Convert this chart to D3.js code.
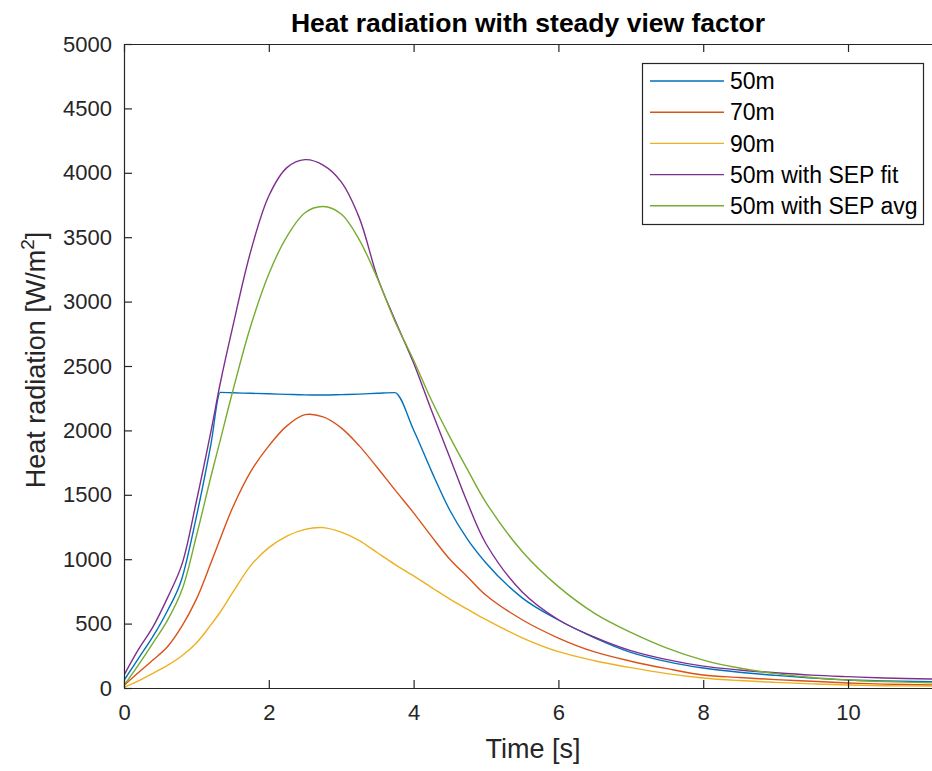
<!DOCTYPE html>
<html>
<head>
<meta charset="utf-8">
<script src="https://cdn.jsdelivr.net/npm/d3@7"></script>
<style>
  html, body { margin: 0; padding: 0; background: #fff; }
  svg { display: block; font-family: "Liberation Sans", Arial, Helvetica, sans-serif; }
</style>
</head>
<body>
<svg id="chart" width="932" height="771"></svg>
<script>
// ---- data ----
const time = [0,0.2,0.4,0.6,0.8,1.0,1.2,1.33,1.5,1.75,2.0,2.25,2.5,2.75,3.0,3.25,3.5,3.74,4.0,4.25,4.5,4.75,5.0,5.5,6.0,6.5,7.0,7.5,8.0,8.5,9.0,9.5,10.0,10.5,11.16];
const seriesNames = ["50m", "70m", "90m", "50m with SEP fit", "50m with SEP avg"];
const seriesColors = ["#0072BD", "#D95319", "#EDB120", "#7E2F8E", "#77AC30"];
const values50m = [60,230,400,600,850,1330,1890,2295,2292,2288,2284,2280,2276,2275,2278,2282,2288,2293,2003,1680,1380,1150,970,700,528,390,277,205,155,122,98,78,62,55,49];
const values70m = [20,120,217,320,480,690,970,1160,1400,1680,1880,2035,2122,2105,2020,1880,1710,1540,1360,1175,1000,860,720,530,388,280,208,150,101,82,65,52,39,30,23];
const values90m = [5,55,114,175,250,350,490,590,740,950,1090,1180,1232,1245,1210,1145,1050,960,870,780,690,610,530,390,282,212,158,112,78,58,44,32,23,18,15];
const valuesSepFit = [100,300,475,700,960,1450,1990,2368,2800,3390,3820,4040,4102,4060,3930,3650,3190,2860,2523,2150,1790,1430,1120,745,530,395,290,220,170,140,118,100,88,78,70];
const valuesSepAvg = [20,180,349,525,760,1180,1640,1925,2300,2810,3215,3505,3690,3738,3680,3480,3180,2850,2545,2230,1950,1690,1440,1060,787,580,432,310,217,155,112,82,62,50,40];
const xTicks = [0,2,4,6,8,10];
const yTicks = [0,500,1000,1500,2000,2500,3000,3500,4000,4500,5000];
const titleText = "Heat radiation with steady view factor";
const xLabel = "Time [s]";

const allSeries = [values50m, values70m, values90m, valuesSepFit, valuesSepAvg];

// ---- layout ----
const svg = d3.select("#chart");
const m = {left: 124, top: 44, right: 932, bottom: 688};
const x = d3.scaleLinear().domain([0, 11.16]).range([m.left, m.right]);
const y = d3.scaleLinear().domain([0, 5000]).range([m.bottom, m.top]);
const axisColor = "#262626";

svg.append("defs").append("clipPath").attr("id", "clip")
  .append("rect").attr("x", m.left).attr("y", m.top)
  .attr("width", m.right - m.left).attr("height", m.bottom - m.top);

// lines
const lineSmooth = d3.line().curve(d3.curveCatmullRom.alpha(0.5));
const lineCorner = d3.line().curve(d3.curveMonotoneX);
const plot = svg.append("g").attr("clip-path", "url(#clip)");
allSeries.forEach((vals, i) => {
  const pts = time.map((t, j) => [x(t), y(vals[j])]);
  const gen = i === 0 ? lineCorner : lineSmooth;
  plot.append("path").attr("d", gen(pts))
    .attr("fill", "none").attr("stroke", seriesColors[i])
    .attr("stroke-width", 1.4).attr("stroke-linejoin", "round");
});

// axes
const tickLen = 8;
const fontSize = 22;
const xAxisB = d3.axisBottom(x).tickValues(xTicks).tickSizeInner(-tickLen).tickSizeOuter(0).tickPadding(16).tickFormat(d3.format("d"));
const xAxisT = d3.axisTop(x).tickValues(xTicks).tickSizeInner(-tickLen).tickSizeOuter(0).tickFormat("");
const yAxisL = d3.axisLeft(y).tickValues(yTicks).tickSizeInner(-tickLen).tickSizeOuter(0).tickPadding(12).tickFormat(d3.format("d"));

function styleAxis(g) {
  g.select(".domain").attr("stroke", axisColor).attr("stroke-width", 1.2);
  g.selectAll(".tick line").attr("stroke", axisColor).attr("stroke-width", 1.2);
  g.selectAll(".tick text").attr("fill", axisColor).attr("font-size", fontSize)
    .attr("font-family", "Liberation Sans, Arial, sans-serif");
}
svg.append("g").attr("transform", `translate(0,${m.bottom})`).call(xAxisB).call(styleAxis);
svg.append("g").attr("transform", `translate(0,${m.top})`).call(xAxisT).call(styleAxis);
svg.append("g").attr("transform", `translate(${m.left},0)`).call(yAxisL).call(styleAxis);

// title
svg.append("text").attr("x", 528).attr("y", 32).attr("text-anchor", "middle")
  .attr("font-size", 26.5).attr("font-weight", "bold").attr("fill", "#000")
  .text(titleText);

// x label
svg.append("text").attr("x", 533).attr("y", 758).attr("text-anchor", "middle")
  .attr("font-size", 27).attr("fill", axisColor).text(xLabel);

// y label
const yl = svg.append("text").attr("transform", "translate(45,360) rotate(-90)")
  .attr("text-anchor", "middle").attr("font-size", 27).attr("fill", axisColor);
yl.append("tspan").text("Heat radiation [W/m");
yl.append("tspan").attr("dy", -11).attr("font-size", 19).text("2");
yl.append("tspan").attr("dy", 11).text("]");

// legend
const lg = svg.append("g");
lg.append("rect").attr("x", 642.5).attr("y", 63.5).attr("width", 281).attr("height", 161)
  .attr("fill", "#fff").attr("stroke", axisColor).attr("stroke-width", 1.2);
seriesNames.forEach((name, i) => {
  const yy = 81 + i * 31.2;
  lg.append("line").attr("x1", 650).attr("x2", 724).attr("y1", yy).attr("y2", yy)
    .attr("stroke", seriesColors[i]).attr("stroke-width", 1.4);
  lg.append("text").attr("x", 730).attr("y", yy).attr("dy", "0.36em")
    .attr("font-size", 23).attr("fill", "#000").text(name);
});
</script>
</body>
</html>
